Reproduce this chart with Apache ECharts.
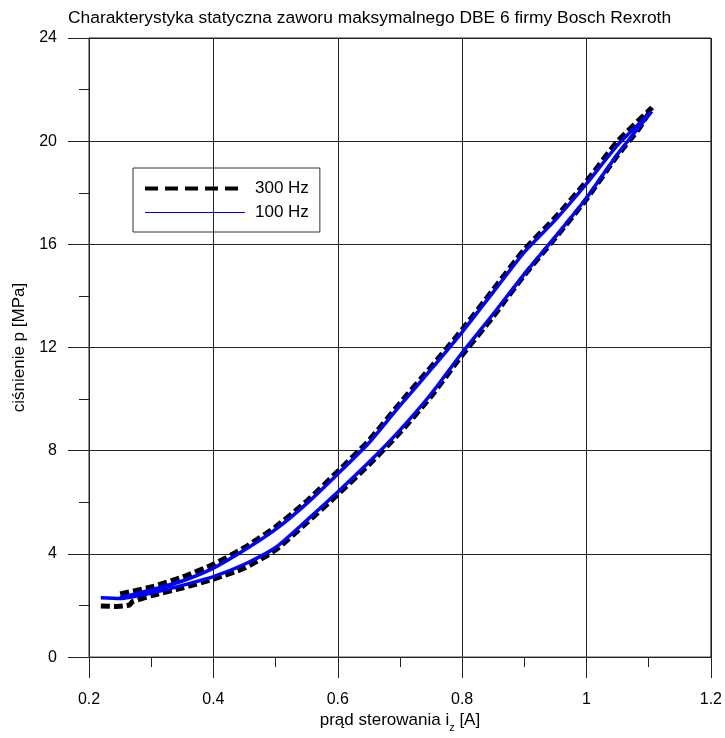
<!DOCTYPE html>
<html>
<head>
<meta charset="utf-8">
<title>Charakterystyka statyczna zaworu DBE 6</title>
<script src="https://cdn.jsdelivr.net/npm/echarts@6/dist/echarts.min.js"></script>
<style>
  html, body { margin: 0; padding: 0; background: #fff; }
  #chart { width: 725px; height: 738px; }
</style>
</head>
<body>
<div id="chart"></div>
<script>
// Static characteristic p(i) of the DBE 6 relief valve: one hysteresis loop per dither frequency.
// Rising current first (lower branch), then falling current back (upper branch).

const seriesNames = ['300 Hz', '100 Hz'];

// 300 Hz dither
const current300 = [
  0.219, 0.245, 0.265, 0.27, 0.30, 0.35, 0.40, 0.45, 0.50, 0.55, 0.60, 0.65, 0.70,
  0.75, 0.80, 0.85, 0.90, 0.95, 1.00, 1.05, 1.085, 1.105,
  1.05, 1.00, 0.95, 0.90, 0.85, 0.80, 0.75, 0.70, 0.65, 0.60, 0.55, 0.50, 0.45,
  0.40, 0.35, 0.30, 0.25
];
const pressure300 = [
  1.98, 1.96, 2.02, 2.15, 2.38, 2.68, 3.02, 3.45, 4.15, 5.20, 6.30, 7.45, 8.70,
  10.10, 11.70, 13.20, 14.80, 16.25, 17.75, 19.45, 20.50, 21.30,
  20.00, 18.45, 17.05, 15.80, 14.25, 12.70, 11.25, 9.85, 8.40, 7.20, 6.05, 5.05, 4.25,
  3.60, 3.10, 2.72, 2.45
];

// 100 Hz dither
const current100 = [
  0.219, 0.25, 0.30, 0.35, 0.40, 0.45, 0.50, 0.55, 0.60, 0.65, 0.70, 0.75, 0.80,
  0.85, 0.90, 0.95, 1.00, 1.05, 1.105,
  1.05, 1.00, 0.95, 0.90, 0.85, 0.80, 0.75, 0.70, 0.65, 0.60, 0.55, 0.50, 0.45,
  0.40, 0.35, 0.30, 0.25
];
const pressure100 = [
  2.30, 2.27, 2.48, 2.78, 3.12, 3.60, 4.25, 5.30, 6.40, 7.55, 8.80, 10.20, 11.80,
  13.30, 14.85, 16.30, 17.80, 19.50, 21.15,
  19.85, 18.35, 16.95, 15.70, 14.15, 12.60, 11.15, 9.75, 8.30, 7.10, 5.95, 4.95, 4.15,
  3.45, 2.95, 2.60, 2.30
];

// Axis ranges and steps
const xRange = { min: 0.2, max: 1.2, step: 0.2 };
const yRange = { min: 0, max: 24, step: 4 };

const FONT = "'Liberation Sans', Arial, sans-serif";
const INK = '#000';
const GRID_COLOR = '#222';

function pairs(xs, ys) {
  return xs.map((x, k) => [x, ys[k]]);
}

const chart = echarts.init(document.getElementById('chart'), null, { renderer: 'canvas' });

const axisCommon = {
  type: 'value',
  axisLine: { show: true, lineStyle: { color: GRID_COLOR, width: 1 } },
  axisTick: { show: true, inside: false, length: 21, lineStyle: { color: GRID_COLOR, width: 1 } },
  minorTick: { show: true, splitNumber: 2, length: 10, lineStyle: { color: GRID_COLOR, width: 1 } },
  splitLine: { show: true, lineStyle: { color: GRID_COLOR, width: 1 } },
  minorSplitLine: { show: false }
};

// legend shows only the line sample, no marker
const hiddenMarker = { color: 'transparent', borderColor: 'transparent', borderWidth: 0, opacity: 0 };

chart.setOption({
  animation: false,
  backgroundColor: '#fff',
  textStyle: { fontFamily: FONT, color: INK },
  title: {
    text: 'Charakterystyka statyczna zaworu maksymalnego DBE 6 firmy Bosch Rexroth',
    left: 68,
    top: 10,
    padding: 0,
    textStyle: { fontFamily: FONT, fontSize: 17.4, fontWeight: 'normal', color: INK }
  },
  grid: {
    left: 89, right: 13, top: 38, bottom: 72,
    show: true, borderColor: GRID_COLOR, borderWidth: 1, backgroundColor: 'transparent'
  },
  legend: {
    orient: 'vertical',
    left: 133,
    top: 168,
    padding: [12, 11, 11, 10],
    itemWidth: 100,
    itemHeight: 14,
    itemGap: 7,
    borderColor: '#333',
    borderWidth: 1,
    borderRadius: 0,
    backgroundColor: 'transparent',
    textStyle: { fontFamily: FONT, fontSize: 17, color: INK, padding: [0, 0, 0, 5] },
    data: [
      { name: seriesNames[0], itemStyle: hiddenMarker, lineStyle: { width: 4, type: [13, 7], color: '#000' } },
      { name: seriesNames[1], itemStyle: hiddenMarker, lineStyle: { width: 1, color: '#0000ff' } }
    ]
  },
  xAxis: Object.assign({}, axisCommon, {
    min: xRange.min,
    max: xRange.max,
    interval: xRange.step,
    axisLabel: {
      margin: 34, fontSize: 16, fontFamily: FONT, color: INK,
      formatter: v => String(+v.toFixed(1))
    },
    name: '{m|prąd sterowania i}{s|z}{m| [A]}',
    nameLocation: 'middle',
    nameGap: 53,
    nameTextStyle: {
      fontFamily: FONT, color: INK,
      rich: {
        m: { fontSize: 17, lineHeight: 21, verticalAlign: 'top', fontFamily: FONT, color: INK },
        s: { fontSize: 11, lineHeight: 21, verticalAlign: 'bottom', fontFamily: FONT, color: INK }
      }
    }
  }),
  yAxis: Object.assign({}, axisCommon, {
    min: yRange.min,
    max: yRange.max,
    interval: yRange.step,
    axisLabel: { margin: 32, fontSize: 16, fontFamily: FONT, color: INK },
    name: 'ciśnienie p [MPa]',
    nameLocation: 'middle',
    nameGap: 58,
    nameTextStyle: { fontFamily: FONT, fontSize: 17, color: INK }
  }),
  series: [
    {
      name: seriesNames[0],
      type: 'line',
      data: pairs(current300, pressure300),
      symbol: 'none',
      smooth: 0.2,
      z: 2,
      itemStyle: { color: '#000' },
      lineStyle: { color: '#000', width: 5, type: [9, 4] }
    },
    {
      name: seriesNames[1],
      type: 'line',
      data: pairs(current100, pressure100),
      symbol: 'none',
      smooth: 0.2,
      z: 3,
      itemStyle: { color: '#0000ff' },
      lineStyle: { color: '#0000ff', width: 3.5 }
    }
  ]
});
</script>
</body>
</html>
